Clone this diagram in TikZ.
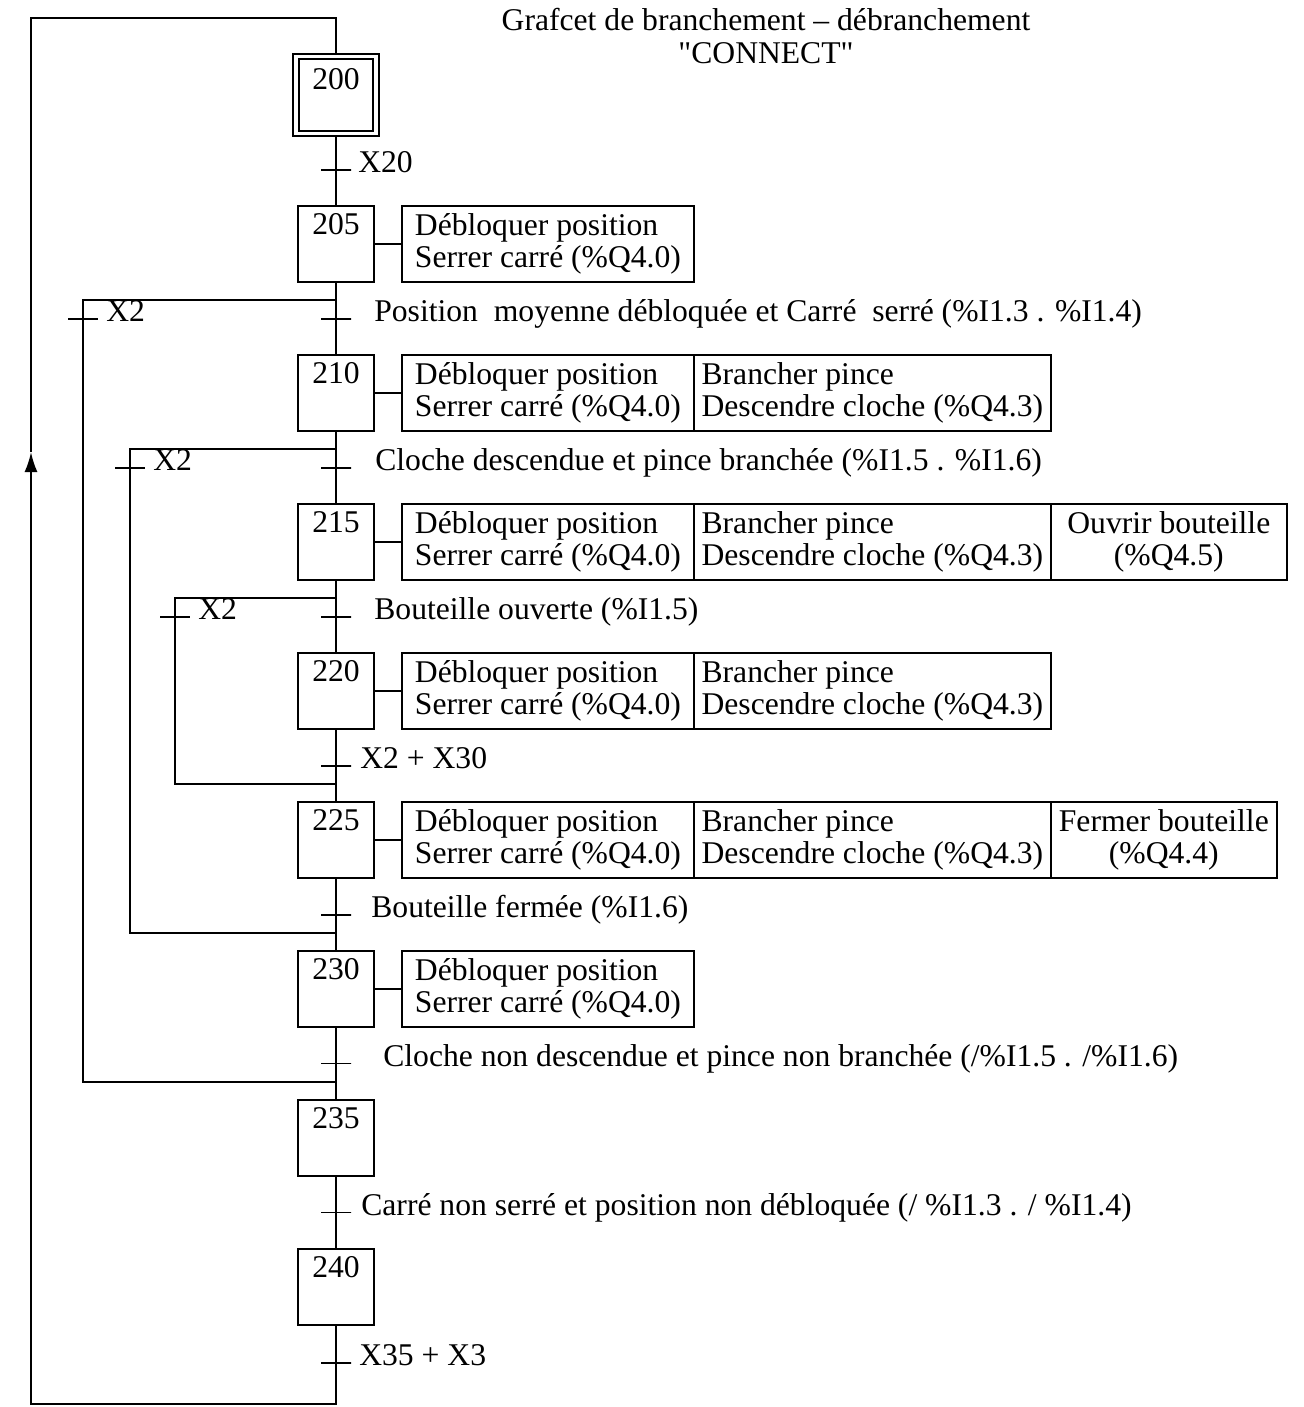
\documentclass[tikz,border=0pt]{standalone}
\usepackage{fontspec}
\setmainfont{Liberation Serif}[Ligatures=TeXOff]
\usepackage{tikz}
\usetikzlibrary{positioning,arrows.meta,calc}
\tikzset{
  stepbox/.style={draw, line width=1.1pt, minimum width=1.52cm, minimum height=1.52cm, inner sep=0pt, outer sep=0pt},
  initStep/.style={stepbox, double, double distance=2pt, minimum width=1.6cm, minimum height=1.54cm, outer sep=2.1pt},
  stepNum/.style={anchor=north, inner sep=0.14cm},
  trans/.style={draw, line width=1.1pt, minimum width=0.6cm, minimum height=0pt, inner sep=0pt, outer sep=0pt},
  cond/.style={anchor=base west, inner sep=0pt, yshift=-0.06cm},
  action/.style={draw, line width=1.1pt, minimum width=5.84cm, minimum height=1.52cm, inner sep=2pt, outer sep=0pt, align=left},
  actionWide/.style={action, minimum width=7.14cm},
  actionEnd/.style={action, align=center},
  link/.style={line width=1.1pt},
  arrow/.style={-{Latex[length=0.4cm, width=0.26cm]}, line width=1.1pt}
}

\begin{document}
\begin{tikzpicture}[x=0.02cm, y=-0.02cm, node distance=1.46cm, font=\fontsize{18}{18.4}\selectfont]
  \useasboundingbox (0,0) rectangle (1303,1407);
  \node[align=center] (title) at (766,36) {Grafcet de branchement – débranchement\\"CONNECT"};

  % steps
  \node[initStep, label={[stepNum, yshift=-0.16cm]north:200}] (s200) at (336,95) {};
  \node[stepbox, below=1.38cm of s200, label={[stepNum]north:205}] (s205) {};
  \node[stepbox, below=of s205, label={[stepNum]north:210}] (s210) {};
  \node[stepbox, below=of s210, label={[stepNum]north:215}] (s215) {};
  \node[stepbox, below=of s215, label={[stepNum]north:220}] (s220) {};
  \node[stepbox, below=of s220, label={[stepNum]north:225}] (s225) {};
  \node[stepbox, below=of s225, label={[stepNum]north:230}] (s230) {};
  \node[stepbox, below=of s230, label={[stepNum]north:235}] (s235) {};
  \node[stepbox, below=of s235, label={[stepNum]north:240}] (s240) {};

  % transitions
  \node[trans] (t1) at ($(s200)!0.5!(s205)$) {};
  \node[trans] (t2) at ($(s205)!0.5!(s210)$) {};
  \node[trans] (t3) at ($(s210)!0.5!(s215)$) {};
  \node[trans] (t4) at ($(s215)!0.5!(s220)$) {};
  \node[trans] (t5) at ($(s220)!0.5!(s225)$) {};
  \node[trans] (t6) at ($(s225)!0.5!(s230)$) {};
  \node[trans] (t7) at ($(s230)!0.5!(s235)$) {};
  \node[trans] (t8) at ($(s235)!0.5!(s240)$) {};
  \node[trans, below=0.76cm of s240] (t9) {};

  \node[right=0.14cm of t1, cond] (c1) {X20};
  \node[right=0.46cm of t2, cond] (c2) {Position~ moyenne débloquée et Carré~ serré (\%I1.3 . \%I1.4)};
  \node[right=0.48cm of t3, cond] (c3) {Cloche descendue et pince branchée (\%I1.5 . \%I1.6)};
  \node[right=0.46cm of t4, cond] (c4) {Bouteille ouverte (\%I1.5)};
  \node[right=0.18cm of t5, cond] (c5) {X2 + X30};
  \node[right=0.40cm of t6, cond] (c6) {Bouteille fermée (\%I1.6)};
  \node[right=0.64cm of t7, cond] (c7) {Cloche non descendue et pince non branchée (/\%I1.5 . /\%I1.6)};
  \node[right=0.20cm of t8, cond] (c8) {Carré non serré et position non débloquée (/ \%I1.3 . / \%I1.4)};
  \node[right=0.16cm of t9, cond] (c9) {X35 + X3};

  % actions
  \node[action, right=0.56cm of s205] (a205) {Débloquer position\\Serrer carré (\%Q4.0)};
  \node[action, right=0.56cm of s210] (a210) {Débloquer position\\Serrer carré (\%Q4.0)};
  \node[actionWide, right=0pt of a210] (b210) {Brancher pince\\Descendre cloche (\%Q4.3)};
  \node[action, right=0.56cm of s215] (a215) {Débloquer position\\Serrer carré (\%Q4.0)};
  \node[actionWide, right=0pt of a215] (b215) {Brancher pince\\Descendre cloche (\%Q4.3)};
  \node[actionEnd, minimum width=4.72cm, right=0pt of b215] (e215) {Ouvrir bouteille\\(\%Q4.5)};
  \node[action, right=0.56cm of s220] (a220) {Débloquer position\\Serrer carré (\%Q4.0)};
  \node[actionWide, right=0pt of a220] (b220) {Brancher pince\\Descendre cloche (\%Q4.3)};
  \node[action, right=0.56cm of s225] (a225) {Débloquer position\\Serrer carré (\%Q4.0)};
  \node[actionWide, right=0pt of a225] (b225) {Brancher pince\\Descendre cloche (\%Q4.3)};
  \node[actionEnd, minimum width=4.52cm, right=0pt of b225] (e225) {Fermer bouteille\\(\%Q4.4)};
  \node[action, right=0.56cm of s230] (a230) {Débloquer position\\Serrer carré (\%Q4.0)};

  \draw[link] (s205) -- (a205);
  \draw[link] (s210) -- (a210);
  \draw[link] (s215) -- (a215);
  \draw[link] (s220) -- (a220);
  \draw[link] (s225) -- (a225);
  \draw[link] (s230) -- (a230);

  % main sequence
  \draw[link] (s200) -- (s205) -- (s210) -- (s215) -- (s220) -- (s225) -- (s230) -- (s235) -- (s240);

  % X2 jumps
  \coordinate (xA) at (83,0);
  \coordinate (xB) at (130,0);
  \coordinate (xC) at (175,0);
  \coordinate (dA) at ($(s205.south)!0.5!(t2)$);
  \coordinate (jA) at ($(t7)!0.5!(s235.north)$);
  \coordinate (dB) at ($(s210.south)!0.5!(t3)$);
  \coordinate (jB) at ($(t6)!0.5!(s230.north)$);
  \coordinate (dC) at ($(s215.south)!0.5!(t4)$);
  \coordinate (jC) at ($(t5)!0.5!(s225.north)$);
  \draw[link] (dA) -| (xA |- jA) -- (jA);
  \draw[link] (dB) -| (xB |- jB) -- (jB);
  \draw[link] (dC) -| (xC |- jC) -- (jC);
  \node[trans] (tA) at (xA |- t2) {};
  \node[trans] (tB) at (xB |- t3) {};
  \node[trans] (tC) at (xC |- t4) {};
  \node[right=0.16cm of tA, cond] (cA) {X2};
  \node[right=0.16cm of tB, cond] (cB) {X2};
  \node[right=0.16cm of tC, cond] (cC) {X2};

  % return to 200
  \coordinate (retBL) at (31,1404);
  \coordinate (retTip) at (31,452);
  \coordinate (retTL) at (31,18);
  \draw[arrow] (s240) -- (s240 |- retBL) -- (retBL) -- (retTip);
  \draw[link] (retTip) -- (retTL) -- (s200 |- retTL) -- (s200);
\end{tikzpicture}
\end{document}
